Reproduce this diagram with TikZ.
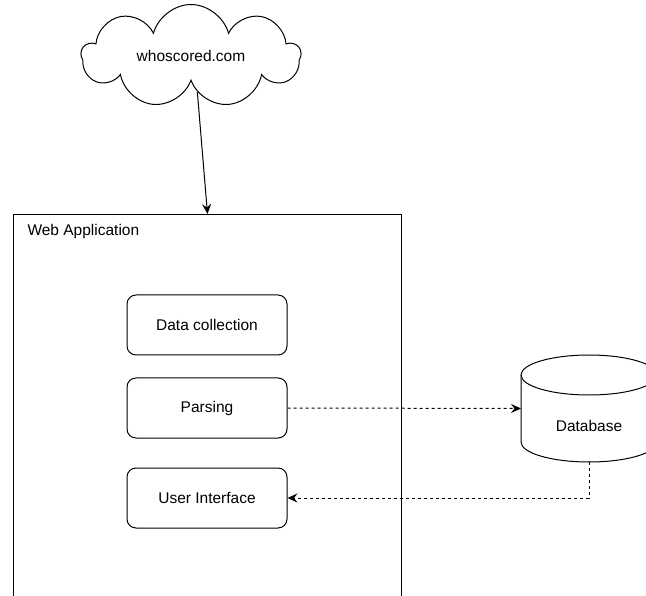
\documentclass[tikz,border=0pt]{standalone}
\usepackage{fontspec}
\setmainfont{Liberation Sans}
\usetikzlibrary{shapes.symbols,arrows.meta,positioning}

\begin{document}
\begin{tikzpicture}[x=1pt, y=-1pt, >={Stealth[length=10pt, width=9pt, inset=3.5pt]},
    font=\fontsize{15.5}{18}\selectfont, line width=1pt,
    block/.style={draw, rounded corners=9pt, minimum width=160pt, minimum height=60pt, inner sep=0pt},
    link/.style={->, dash pattern=on 3pt off 3pt},
    lid/.style={x radius=68, y radius=20}]
    \clip (0,0) rectangle (646,596);
    \node[draw, cloud, cloud puffs=9, aspect=2.3, minimum width=219pt, minimum height=93pt,
          inner sep=0pt] (site) at (191,56) {whoscored.com};
    \node[draw, rectangle, minimum width=388pt, minimum height=420pt, inner sep=0pt,
          anchor=north west] (app) at (13,214) {};
    \node[anchor=north west, inner sep=0pt] (applbl) at ([xshift=14pt, yshift=-10pt]app.north west) {Web Application};
    \node[block] (collect) at (207,325) {Data collection};
    \node[block] (parse) at (207,408) {Parsing};
    \node[block] (ui) at (207,498) {User Interface};
    % database drum
    \draw (521,375) -- (521,442) arc[start angle=180, end angle=0, lid] -- (657,375)
          arc[start angle=0, end angle=-180, lid] -- cycle;
    \draw (521,375) arc[start angle=180, end angle=0, lid];
    \node (db) at (589,426) {Database};
    \coordinate (dbin) at (521,408.5);
    \coordinate (dbout) at (589,462);
    % connectors
    \draw[->] (site.-80) -- (app.north);
    \draw[link] (parse.east) -- (dbin);
    \draw[link] (dbout) |- (ui.east);
\end{tikzpicture}
\end{document}
